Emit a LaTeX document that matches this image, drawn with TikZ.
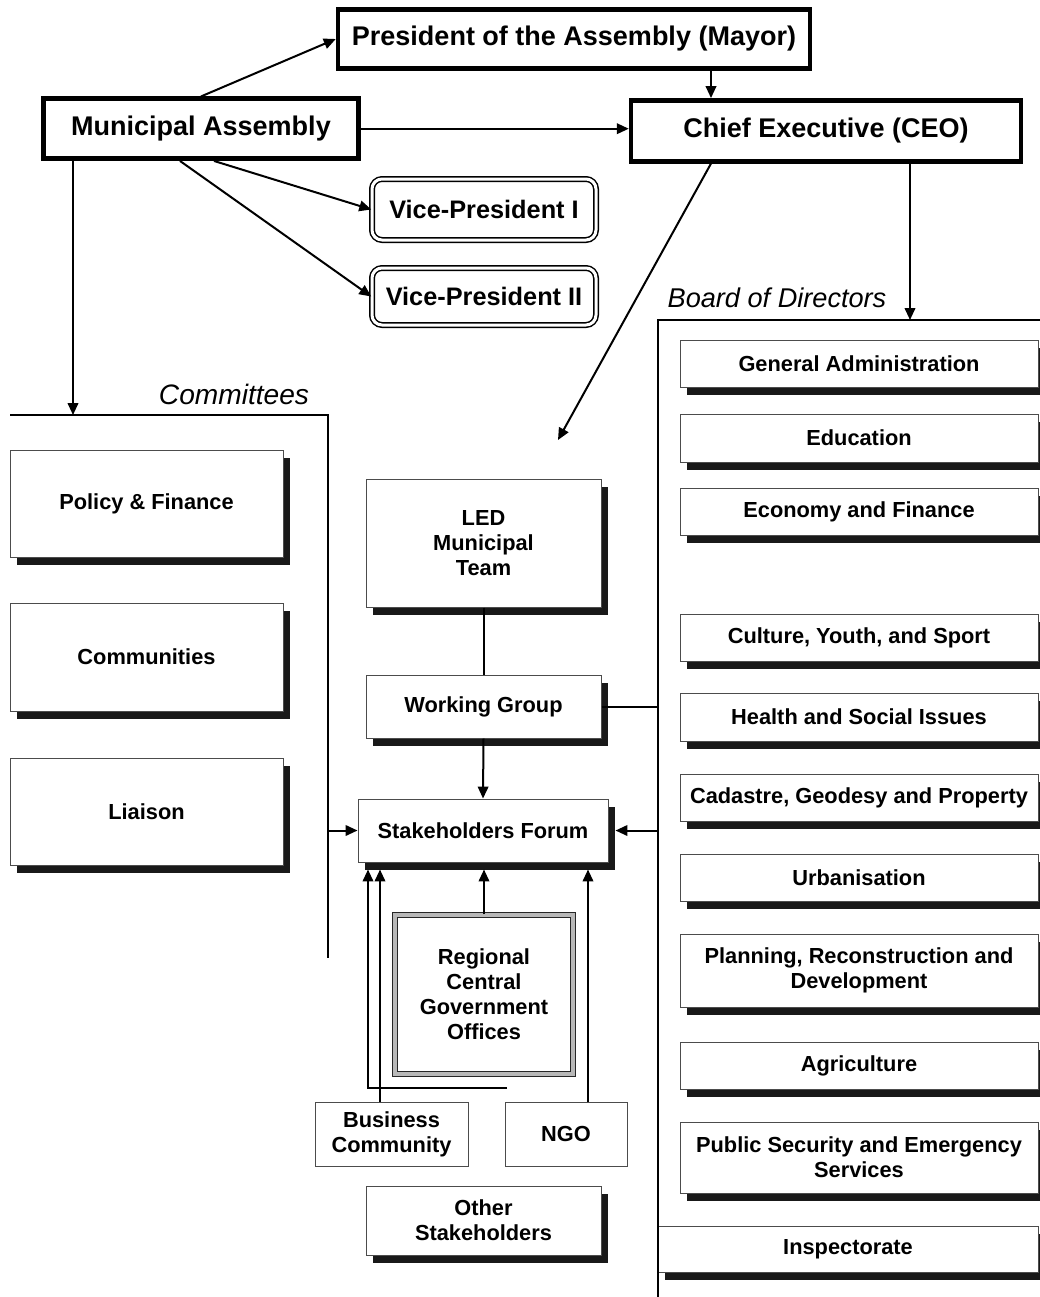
\documentclass[tikz,border=0pt]{standalone}
\usepackage{fontspec}
\setmainfont{Liberation Sans}
\usetikzlibrary{arrows.meta,shadows}
\newlength\pxu
\setlength\pxu{0.025cm}
\tikzset{
  boxtext/.style={font=\fontsize{15.5}{17.8}\selectfont\bfseries, align=center, inner sep=0pt},
  topbox/.style={draw, line width=4.5\pxu, fill=white, inner sep=0pt,
    font=\fontsize{19.2}{22}\selectfont\bfseries,
    general shadow={fill=black, shadow xshift=1.5\pxu, shadow yshift=-1.5\pxu}},
  vicebox/.style={draw, line width=1.5\pxu, double, double distance=3\pxu,
    rounded corners=10\pxu, inner sep=0pt, font=\fontsize{18}{21}\selectfont\bfseries},
  shadowbox/.style={boxtext, draw=black!70, line width=1\pxu, fill=white,
    general shadow={fill=black!90, shadow xshift=7\pxu, shadow yshift=-8\pxu}},
  plainbox/.style={boxtext, draw=black!70, line width=1\pxu, fill=white},
  officebox/.style={boxtext, draw=black!85, line width=1.2\pxu, double=black!28, double distance=4\pxu},
  grouplabel/.style={font=\fontsize{20}{24}\selectfont\itshape},
  bracket/.style={line width=2.4\pxu},
  link/.style={line width=2\pxu},
}
\begin{document}
\begin{tikzpicture}[x=0.025cm, y=-0.025cm, >={Triangle[length=8.5pt,width=7.5pt]}]
\useasboundingbox (0,0) rectangle (1040,1297);
\clip (0,0) rectangle (1040,1297);

% top level
\node[topbox, minimum width=472\pxu, minimum height=59\pxu] (pres) at (574,39) {President of the Assembly (Mayor)};
\node[topbox, minimum width=315\pxu, minimum height=60\pxu] (assembly) at (201,128.7) {Municipal Assembly};
\node[topbox, minimum width=390\pxu, minimum height=61\pxu] (ceo) at (826,130.8) {Chief Executive (CEO)};
\node[vicebox, minimum width=224\pxu, minimum height=61\pxu] (vp1) at (484,209.5) {Vice-President I};
\node[vicebox, minimum width=224\pxu, minimum height=57\pxu] (vp2) at (484,296.5) {Vice-President II};

% committees
\node[grouplabel] (comlabel) at (234,394) {Committees};
\node[shadowbox, minimum width=273\pxu, minimum height=107\pxu] (policy) at (146.5,503.5) {Policy \& Finance};
\node[shadowbox, minimum width=273\pxu, minimum height=108\pxu] (communities) at (146.5,657) {Communities};
\node[shadowbox, minimum width=273\pxu, minimum height=107\pxu] (liaison) at (146.5,811.5) {Liaison};

% LED
\node[shadowbox, minimum width=235\pxu, minimum height=128\pxu] (led) at (483.5,543) {LED\\Municipal\\Team};
\node[shadowbox, minimum width=235\pxu, minimum height=63\pxu] (wg) at (483.5,706.5) {Working Group};
\node[shadowbox, minimum width=250\pxu, minimum height=63\pxu] (forum) at (483,830.5) {Stakeholders Forum};
\node[officebox, minimum width=178\pxu, minimum height=159\pxu] (rcgo) at (484,994.5) {Regional\\Central\\Government\\Offices};
\node[plainbox, minimum width=153\pxu, minimum height=64\pxu] (business) at (391.5,1134) {Business\\Community};
\node[plainbox, minimum width=122\pxu, minimum height=64\pxu] (ngo) at (566,1134) {NGO};
\node[shadowbox, minimum width=235\pxu, minimum height=69\pxu] (others) at (483.5,1220.5) {Other\\Stakeholders};

% board of directors
\node[grouplabel, font=\fontsize{19.3}{24}\selectfont\itshape] (brdlabel) at (777,298) {Board of Directors};
\node[shadowbox, minimum width=358\pxu, minimum height=47\pxu] (genadmin) at (859,363.5) {General Administration};
\node[shadowbox, minimum width=358\pxu, minimum height=48\pxu] (education) at (859,438) {Education};
\node[shadowbox, minimum width=358\pxu, minimum height=47\pxu] (economy) at (859,511.5) {Economy and Finance};
\node[shadowbox, minimum width=358\pxu, minimum height=47\pxu] (culture) at (859,637.5) {Culture, Youth, and Sport};
\node[shadowbox, minimum width=358\pxu, minimum height=48\pxu] (health) at (859,717) {Health and Social Issues};
\node[shadowbox, minimum width=358\pxu, minimum height=47\pxu] (cadastre) at (859,797.5) {Cadastre, Geodesy and Property};
\node[shadowbox, minimum width=358\pxu, minimum height=47\pxu] (urban) at (859,877.5) {Urbanisation};
\node[shadowbox, minimum width=358\pxu, minimum height=73\pxu] (planning) at (859,970.5) {Planning, Reconstruction and\\Development};
\node[shadowbox, minimum width=358\pxu, minimum height=47\pxu] (agri) at (859,1065.5) {Agriculture};
\node[shadowbox, minimum width=358\pxu, minimum height=71\pxu] (security) at (859,1157.5) {Public Security and Emergency\\Services};
\node[shadowbox, minimum width=380\pxu, minimum height=46\pxu] (inspect) at (848,1249) {Inspectorate};

% brackets
\coordinate (comtop) at (73,415);
\coordinate (comleft) at (10,415);
\coordinate (comcorner) at (328,415);
\coordinate (comend) at (328,958);
\coordinate (brdtop) at (910,320);
\coordinate (brdright) at (1040,320);
\coordinate (brdcorner) at (658,320);
\coordinate (brdend) at (658,1297);
\draw[bracket] (comleft) -- (comcorner) -- (comend);
\draw[bracket] (brdright) -- (brdcorner) -- (brdend);

% connectors
\coordinate (ceoin) at ([xshift=-115\pxu]ceo.north);
\coordinate (ledtip) at (558,440);
\draw[link,->] (assembly.north) -- (pres.west);
\draw[link,->] (ceoin |- pres.south) -- (ceoin);
\draw[link,->] (assembly.east) -- (assembly.east -| ceo.west);
\draw[link,->] ([xshift=13\pxu]assembly.south) -- (vp1.west);
\draw[link,->] ([xshift=-21\pxu]assembly.south) -- (vp2.west);
\draw[link,->] (assembly.south -| comtop) -- (comtop);
\draw[link,->] (ceo.south -| brdtop) -- (brdtop);
\draw[link,->] ([xshift=-115\pxu]ceo.south) -- (ledtip);
\draw[link] (led.south) -- (wg.north);
\draw[link,->] (wg.south) -- (forum.north);
\draw[link] (wg.east) -- (wg.east -| brdcorner);
\draw[link,->] (forum.west -| comcorner) -- (forum.west);
\draw[link,->] (forum.east -| brdcorner) -- ([xshift=7\pxu]forum.east);

\coordinate (fbot) at ([yshift=-7\pxu]forum.south);
\coordinate (ngoup) at ([xshift=22\pxu]ngo.north);
\coordinate (bizup) at ([xshift=-11.5\pxu]business.north);
\coordinate (loose) at (507,1088);
\coordinate (bizbend) at (368,1088);
\draw[link,->] (rcgo.north) -- (rcgo.north |- fbot);
\draw[link,->] (ngoup) -- (ngoup |- fbot);
\draw[link,->] (bizup) -- (bizup |- fbot);
\draw[link,->] (loose) -- (bizbend) -- (bizbend |- fbot);
\end{tikzpicture}
\end{document}
